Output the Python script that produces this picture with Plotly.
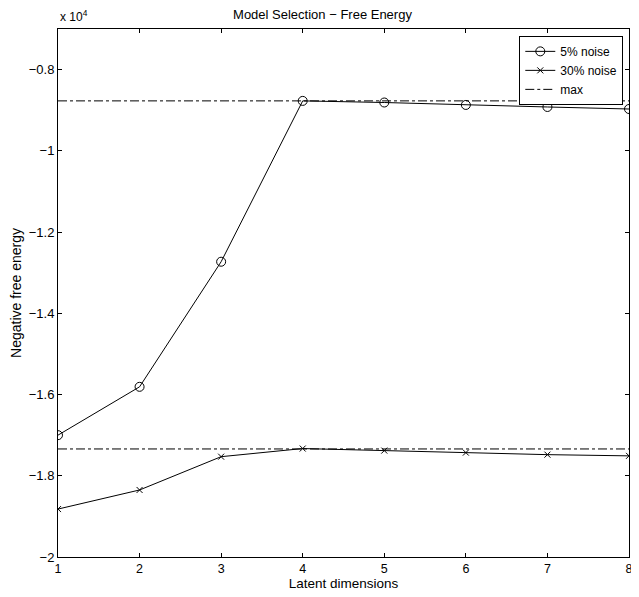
import plotly.graph_objects as go

dims = [1, 2, 3, 4, 5, 6, 7, 8]
noise5 = [-17000, -15810, -12730, -8770, -8810, -8870, -8920, -8970]
noise30 = [-18820, -18350, -17530, -17330, -17380, -17430, -17480, -17510]
max5 = -8770
max30 = -17340
ytick_vals = [-20000, -18000, -16000, -14000, -12000, -10000, -8000]
ytick_text = ["\u22122", "\u22121.8", "\u22121.6", "\u22121.4", "\u22121.2", "\u22121", "\u22120.8"]

fam = "Liberation Sans, Arial, Helvetica, sans-serif"
font = dict(family=fam, size=13, color="black")
xtick_font = dict(family=fam, size=12.5, color="black")
title_font = dict(family=fam, size=13.5, color="black")

fig = go.Figure()
fig.add_trace(go.Scatter(x=dims, y=noise5, mode="lines+markers", name="5% noise",
                         line=dict(color="black", width=1),
                         marker=dict(symbol="circle-open", size=9, color="black", line=dict(width=1))))
fig.add_trace(go.Scatter(x=dims, y=noise30, mode="lines+markers", name="30% noise",
                         line=dict(color="black", width=1),
                         marker=dict(symbol="x-thin-open", size=6, color="black", line=dict(width=1))))
fig.add_trace(go.Scatter(x=[dims[0], dims[-1]], y=[max5, max5], mode="lines", name="max",
                         line=dict(color="black", width=1, dash="dashdot")))
fig.add_trace(go.Scatter(x=[dims[0], dims[-1]], y=[max30, max30], mode="lines", name="max",
                         showlegend=False,
                         line=dict(color="black", width=1, dash="dashdot")))

W, H = 629, 583
fig.update_layout(
    width=W, height=H,
    margin=dict(l=50, r=8, t=21, b=34, autoexpand=False),
    paper_bgcolor="white", plot_bgcolor="white",
    font=font,
    title=dict(text="Model Selection \u2212 Free Energy", x=0.5, xanchor="center",
               y=1 - 6.5 / H, yanchor="middle", font=font),
    showlegend=True,
    legend=dict(x=0.99, y=0.987, xanchor="right", yanchor="top",
                bordercolor="black", borderwidth=1, bgcolor="white",
                font=dict(family=fam, size=12, color="black"),
                tracegroupgap=0, itemwidth=30),
    xaxis=dict(range=[1, 8], tickvals=dims, ticks="inside", ticklen=4, tickcolor="black",
               showline=True, linecolor="black", linewidth=1, mirror="ticks",
               showgrid=False, zeroline=False, automargin=False,
               tickfont=xtick_font,
               title=dict(text="Latent dimensions", standoff=6, font=title_font)),
    yaxis=dict(range=[-20000, -7000], tickvals=ytick_vals, ticktext=ytick_text,
               ticks="inside", ticklen=4, tickcolor="black",
               showline=True, linecolor="black", linewidth=1, mirror="ticks",
               showgrid=False, zeroline=False, automargin=False,
               tickfont=font,
               title=dict(text="Negative free energy", standoff=8, font=dict(family=fam, size=14, color="black"))),
    annotations=[dict(text="x 10<sup>4</sup>", xref="paper", yref="paper", x=0, y=1,
                      xanchor="left", yanchor="bottom", yshift=3, showarrow=False,
                      font=dict(family=fam, size=12, color="black"))],
)

fig.write_html("out.html")
